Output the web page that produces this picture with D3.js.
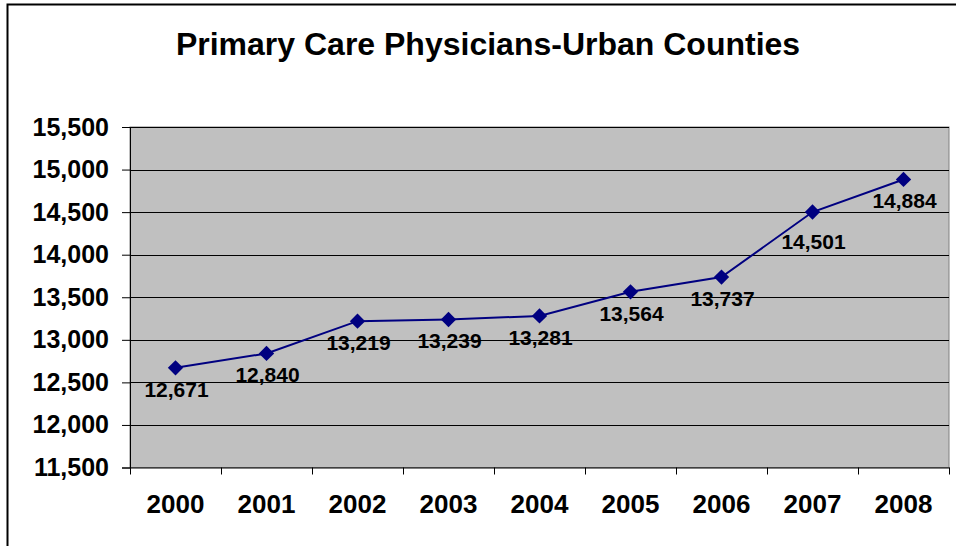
<!DOCTYPE html>
<html>
<head>
<meta charset="utf-8">
<script src="https://cdn.jsdelivr.net/npm/d3@7"></script>
<style>
  html, body { margin: 0; padding: 0; background: #fff; }
  svg { display: block; font-family: "Liberation Sans", Arial, sans-serif; }
</style>
</head>
<body>
<svg id="chart" width="956" height="546"></svg>
<script>
// Primary care physicians in urban counties, by year
const years = ["2000", "2001", "2002", "2003", "2004", "2005", "2006", "2007", "2008"];
const physicians = [12671, 12840, 13219, 13239, 13281, 13564, 13737, 14501, 14884];
const yTicks = [11500, 12000, 12500, 13000, 13500, 14000, 14500, 15000, 15500];
const chartTitle = "Primary Care Physicians-Urban Counties";

const svg = d3.select("#chart");
const plot = { left: 130, right: 949, top: 127, bottom: 467.5 };

// outer chart frame (runs off the right and bottom edges)
svg.append("rect")
  .attr("x", 7.5).attr("y", 4.5)
  .attr("width", 960).attr("height", 560)
  .attr("fill", "#fff").attr("stroke", "#000").attr("stroke-width", 2);

svg.append("text")
  .attr("x", 488).attr("y", 55)
  .attr("text-anchor", "middle")
  .attr("font-size", 32).attr("font-weight", "bold")
  .attr("fill", "#000")
  .text(chartTitle);

const x = d3.scaleBand().domain(years).range([plot.left, plot.right]);
const y = d3.scaleLinear().domain([11500, 15500]).range([plot.bottom, plot.top]);

// plot background
svg.append("rect")
  .attr("x", plot.left).attr("y", plot.top)
  .attr("width", plot.right - plot.left).attr("height", plot.bottom - plot.top)
  .attr("fill", "#c0c0c0").attr("stroke", "#808080").attr("stroke-width", 1);

// horizontal gridlines
svg.append("g")
  .selectAll("line")
  .data(yTicks.filter(v => v > 11500))
  .join("line")
  .attr("x1", plot.left).attr("x2", plot.right)
  .attr("y1", d => Math.round(y(d)) + 0.5).attr("y2", d => Math.round(y(d)) + 0.5)
  .attr("stroke", "#000").attr("stroke-width", 1);

// y axis
const yAxis = svg.append("g")
  .attr("transform", `translate(${plot.left},0)`)
  .call(d3.axisLeft(y).tickValues(yTicks).tickFormat(d3.format(",")).tickSize(8).tickPadding(13));
yAxis.select(".domain").attr("stroke", "#000");
yAxis.selectAll(".tick line").attr("stroke", "#000");
yAxis.selectAll(".tick text")
  .attr("font-size", 25).attr("font-weight", "bold").attr("fill", "#000")
  .attr("font-family", "Liberation Sans, Arial, sans-serif");

// x axis with ticks between categories
const xAxis = svg.append("g")
  .attr("transform", `translate(0,${plot.bottom})`)
  .call(d3.axisBottom(x).tickSize(0).tickPadding(27));
xAxis.select(".domain").attr("stroke", "#000");
xAxis.selectAll(".tick text")
  .attr("font-size", 26).attr("font-weight", "bold").attr("fill", "#000")
  .attr("font-family", "Liberation Sans, Arial, sans-serif");
svg.append("g")
  .selectAll("line")
  .data(years.map(d => x(d)).concat([plot.right]))
  .join("line")
  .attr("x1", d => Math.round(d) + 0.5).attr("x2", d => Math.round(d) + 0.5)
  .attr("y1", plot.bottom).attr("y2", plot.bottom + 7)
  .attr("stroke", "#000");

const cx = d => x(d) + x.bandwidth() / 2;
const series = years.map((yr, i) => ({ yr, v: physicians[i] }));

svg.append("path")
  .datum(series)
  .attr("fill", "none")
  .attr("stroke", "#000080").attr("stroke-width", 2)
  .attr("d", d3.line().x(d => cx(d.yr)).y(d => y(d.v)));

svg.append("g")
  .selectAll("path")
  .data(series)
  .join("path")
  .attr("transform", d => `translate(${cx(d.yr)},${y(d.v)})`)
  .attr("d", d3.symbol(d3.symbolDiamond2, 150))
  .attr("fill", "#000080");

// value labels beneath each marker
const labelDrop = d => (d.yr === "2007" ? 37 : 29);
svg.append("g")
  .selectAll("text")
  .data(series)
  .join("text")
  .attr("x", d => cx(d.yr) + 1)
  .attr("y", d => y(d.v) + labelDrop(d))
  .attr("text-anchor", "middle")
  .attr("font-size", 21).attr("font-weight", "bold").attr("fill", "#000")
  .text(d => d3.format(",")(d.v));
</script>
</body>
</html>
